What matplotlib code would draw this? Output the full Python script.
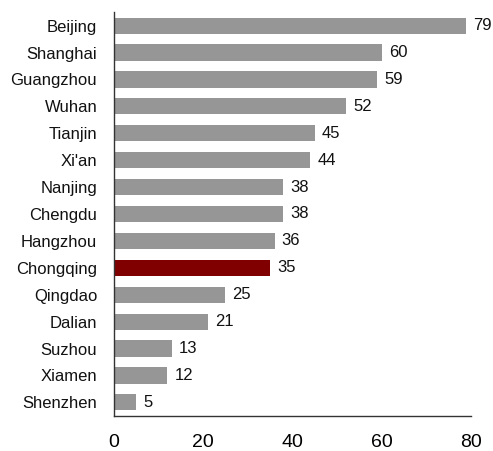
import matplotlib.pyplot as plt
import numpy as np

cities = ['Beijing', 'Shanghai', 'Guangzhou', 'Wuhan', 'Tianjin', "Xi'an", 'Nanjing',
          'Chengdu', 'Hangzhou', 'Chongqing', 'Qingdao', 'Dalian', 'Suzhou', 'Xiamen', 'Shenzhen']
values = [79, 60, 59, 52, 45, 44, 38, 38, 36, 35, 25, 21, 13, 12, 5]
highlight = 'Chongqing'
xticks = [0, 20, 40, 60, 80]

plt.rcParams['font.family'] = ['Liberation Sans', 'DejaVu Sans']

fig = plt.figure(figsize=(4.93, 4.51), dpi=100)
ax = fig.add_axes([0.231, 0.078, 0.724, 0.895])

y = np.arange(len(cities))
colors = ['#800000' if c == highlight else '#969696' for c in cities]
ax.barh(y, values, height=0.6, color=colors)
for yi, v in zip(y, values):
    ax.text(v + 1.6, yi, str(v), va='center', ha='left', fontsize=12, color='#111111')

ax.set_yticks(y)
ax.set_yticklabels(cities, fontsize=12, color='#111111')
ax.set_ylim(len(cities) - 0.5, -0.5)
ax.set_xlim(0, 80)
ax.set_xticks(xticks)
ax.set_xticklabels([str(t) for t in xticks], fontsize=14)
ax.tick_params(length=0)
ax.tick_params(axis='x', pad=13)
ax.tick_params(axis='y', pad=12)
for s in ['top', 'right']:
    ax.spines[s].set_visible(False)
for s in ['left', 'bottom']:
    ax.spines[s].set_color('#333333')
    ax.spines[s].set_linewidth(1)

fig.savefig('out.png', dpi=100)
